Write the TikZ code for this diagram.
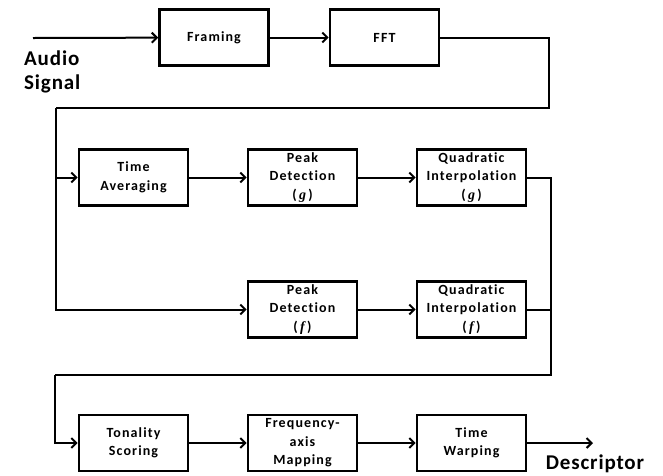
\documentclass[tikz,border=0pt]{standalone}
\usepackage{fontspec}
\setmainfont{Carlito}[LetterSpace=8, Ligatures={NoCommon}]
\newfontfamily\varfont{Liberation Serif}
\usetikzlibrary{arrows.meta}

\newcommand{\varname}[1]{(\,{\varfont\itshape\fontsize{14}{18}\selectfont #1}\,)}

\tikzset{
    block/.style={draw, line width=2.6pt, minimum width=109pt, minimum height=56pt,
        align=center, inner sep=1pt, font=\fontsize{14}{18.5}\selectfont\bfseries},
    flow/.style={line width=2pt},
    flowarr/.style={flow, -{Straight Barb[length=5pt,width=10pt]}},
    biglabel/.style={font=\fontsize{21}{24}\selectfont\bfseries\addfontfeature{LetterSpace=4},
        align=left, inner sep=0pt}
}

\begin{document}
\begin{tikzpicture}[x=1pt, y=-1pt]

    %% Tonal descriptor extraction chain

    \useasboundingbox (0, 0) rectangle (663, 475);

    % Blocks
    \node[block] (framing) at (214, 37.5) {Framing};
    \node[block] (fft) at (384.5, 37.5) {FFT};
    \node[block] (timeavg) at (133.5, 177.5) {Time\\Averaging};
    \node[block] (peakg) at (302.5, 177.5) {Peak\\Detection\\\varname{g}};
    \node[block] (quadg) at (471.5, 177.5) {Quadratic\\Interpolation\\\varname{g}};
    \node[block] (peakf) at (302.5, 309.5) {Peak\\Detection\\\varname{f}};
    \node[block] (quadf) at (471.5, 309.5) {Quadratic\\Interpolation\\\varname{f}};
    \node[block] (tonality) at (133.5, 443) {Tonality\\Scoring};
    \node[block] (freqmap) at (302.5, 443) {Frequency-\\axis\\Mapping};
    \node[block] (warping) at (471.5, 443) {Time\\Warping};

    % Corners
    \coordinate (in) at (33, 38);
    \coordinate (out) at (593, 443);
    \coordinate (c1) at (549, 108);
    \coordinate (c2) at (56, 108);
    \coordinate (c3) at (551, 375);
    \coordinate (c4) at (55, 375);

    % Labels
    \node[biglabel, anchor=base west] (audio) at (24, 89) {Audio\\Signal};
    \node[biglabel, anchor=base] (desc) at (595, 469) {Descriptor};

    % Top row
    \draw[flowarr] (in) -- (framing);
    \draw[flowarr] (framing) -- (fft);
    \draw[flow] (fft.east) -| (c1) -- (c2);

    % Two branches
    \draw[flowarr] (c2) |- (timeavg.west);
    \draw[flowarr] (c2) |- (peakf.west);
    \draw[flowarr] (timeavg) -- (peakg);
    \draw[flowarr] (peakg) -- (quadg);
    \draw[flowarr] (peakf) -- (quadf);

    % Merge
    \draw[flow] (quadg.east) -| (c3) -- (c4);
    \draw[flow] (quadf.east) -- (quadf.east -| c3);
    \draw[flowarr] (c4) |- (tonality.west);

    % Bottom row
    \draw[flowarr] (tonality) -- (freqmap);
    \draw[flowarr] (freqmap) -- (warping);
    \draw[flowarr] (warping) -- (out);

\end{tikzpicture}
\end{document}
